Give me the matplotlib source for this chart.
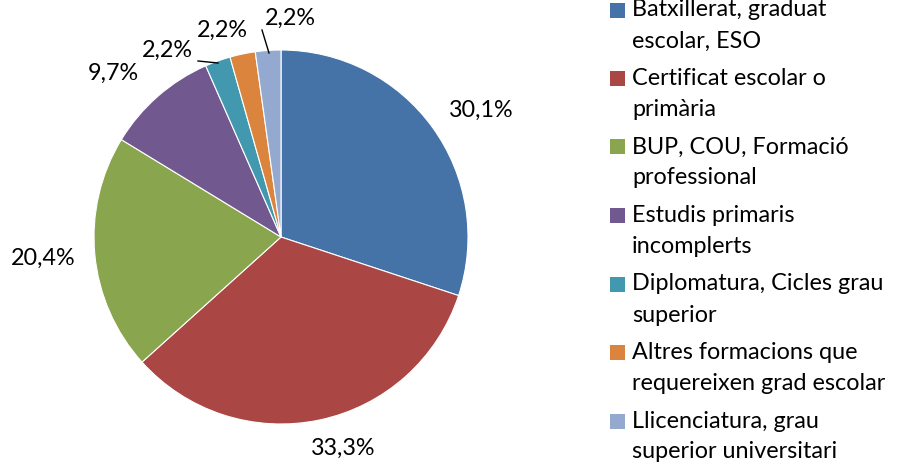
import matplotlib
matplotlib.use("Agg")
import matplotlib.pyplot as plt
from matplotlib.patches import Rectangle

categories = ["Batxillerat, graduat\nescolar, ESO",
              "Certificat escolar o\nprimària",
              "BUP, COU, Formació\nprofessional",
              "Estudis primaris\nincomplerts",
              "Diplomatura, Cicles grau\nsuperior",
              "Altres formacions que\nrequereixen grad escolar",
              "Llicenciatura, grau\nsuperior universitari"]
values = [30.1, 33.3, 20.4, 9.7, 2.2, 2.2, 2.2]
value_labels = ["30,1%", "33,3%", "20,4%", "9,7%", "2,2%", "2,2%", "2,2%"]
colors = ["#4572A7", "#AA4643", "#89A54E", "#71588F", "#4198AF", "#DB843D", "#93A9CF"]

W, H = 905, 468
fig = plt.figure(figsize=(W / 100, H / 100), dpi=100)
FONT = "Lato"
FS = 16.8

cx, cy, r = 281, 237, 187
ax = fig.add_axes([(cx - r) / W, (H - cy - r) / H, 2 * r / W, 2 * r / H])
ax.pie(values, colors=colors, startangle=90, counterclock=False,
       wedgeprops=dict(edgecolor="white", linewidth=0.8))
ax.set_xlim(-1, 1)
ax.set_ylim(-1, 1)
ax.set_aspect("auto")
ax.axis("off")

# label positions in pixel coords of the reference
label_px = [(481, 110), (343, 448), (43, 258), (113, 73), (167, 50), (222, 30), (290, 18)]
for (px, py), t in zip(label_px, value_labels):
    ax.text((px - cx) / r, (cy - py) / r, t, ha="center", va="center",
            fontsize=FS, family=FONT, color="#000000", clip_on=False)

leaders = [((198, 61), (218, 63)), ((262, 30), (269, 53))]
for (x0, y0), (x1, y1) in leaders:
    ax.plot([(x0 - cx) / r, (x1 - cx) / r], [(cy - y0) / r, (cy - y1) / r],
            color="black", lw=1, clip_on=False)

# legend
for i, (lab, col) in enumerate(zip(categories, colors)):
    yc = 10 + 68.5 * i
    fig.patches.append(Rectangle((610 / W, 1 - (yc + 7.5) / H), 15 / W, 15 / H,
                                 transform=fig.transFigure, facecolor=col,
                                 edgecolor="none"))
    lines = lab.split("\n")
    for j, ln in enumerate(lines):
        fig.text(632 / W, 1 - (yc + 31 * j) / H, ln, ha="left", va="center",
                 fontsize=FS, family=FONT, color="#000000")

fig.savefig("out.png", dpi=100)
